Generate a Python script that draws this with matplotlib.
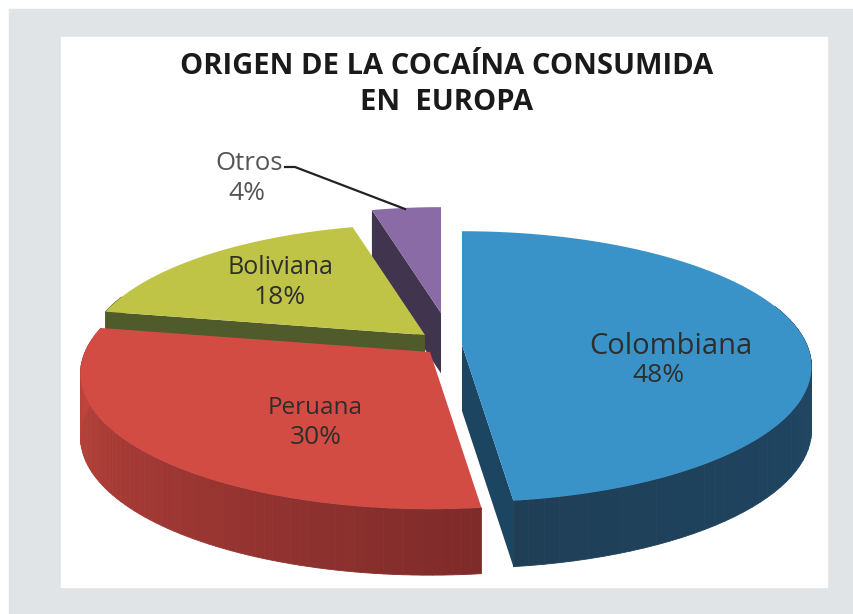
import numpy as np
import matplotlib.pyplot as plt
from matplotlib.colors import to_rgb
from matplotlib.patches import Rectangle

labels = ['Colombiana', 'Peruana', 'Boliviana', 'Otros']
values = [48, 30, 18, 4]

# colores de cada porcion
top_colors = ['#3a93c8', '#d34c44', '#bfc447', '#8a6ba6']
side_colors = [('#1f5074', '#1f3f57'), ('#7e2b2a', '#c4463e'), ('#4f5b2b', '#4f5b2b'), ('#40344f', '#40344f')]
face_colors = ['#1b4560', '#7e2b2a', '#4f5b2b', '#40344f']

# centro de cada porcion en pixeles
centers = [(462, 345), (430, 352), (425, 335), (441, 313)]
radius = [1.0, 1.0, 0.97, 0.92]

A = 345
B = 132
K = 0.16


def project(theta, cx, cy, r):
    # theta desde las 12 en sentido horario, con perspectiva
    u = np.sin(theta) * r
    v = -np.cos(theta) * r
    s = 1 / (1 - K * v)
    return cx + A * u * s, cy + B * v * s, v


def depth(v):
    return 60 + 3 * (v + 1)


fig = plt.figure(figsize=(8.54, 6.14), dpi=100)
ax = fig.add_axes([0, 0, 1, 1])
ax.set_xlim(0, 854)
ax.set_ylim(614, 0)
ax.axis('off')

ax.add_patch(Rectangle((0, 0), 854, 614, color='white', zorder=0))
ax.add_patch(Rectangle((9, 9), 845, 605, color='#e1e4e6', zorder=0))
ax.add_patch(Rectangle((61, 37), 766, 550, color='white', zorder=0))

fracs = np.array(values) / sum(values)
edges = np.concatenate([[0], np.cumsum(fracs)]) * 2 * np.pi

# se pinta de atras hacia adelante
for i in [3, 2, 1, 0]:
    cx, cy = centers[i]
    th = np.linspace(edges[i], edges[i + 1], 80)
    x, y, v = project(th, cx, cy, radius[i])

    # cara radial visible
    if labels[i] == 'Colombiana':
        d = depth(v[-1])
        ax.fill([cx, x[-1], x[-1], cx], [cy, y[-1], y[-1] + d, cy + d], color=face_colors[i], lw=0, zorder=1)
    if labels[i] in ('Boliviana', 'Otros'):
        d = depth(v[0])
        ax.fill([cx, x[0], x[0], cx], [cy, y[0], y[0] + d, cy + d], color=face_colors[i], lw=0, zorder=1)

    # pared exterior con degradado
    c0 = np.array(to_rgb(side_colors[i][0]))
    c1 = np.array(to_rgb(side_colors[i][1]))
    for j in range(len(th) - 1):
        if v[j] < -0.3 and v[j + 1] < -0.3:
            continue
        t = j / (len(th) - 2)
        col = c0 + (c1 - c0) * t
        ax.fill([x[j], x[j + 1], x[j + 1], x[j]],
                [y[j], y[j + 1], y[j + 1] + depth(v[j + 1]), y[j] + depth(v[j])],
                color=col, ec=col, lw=0.6, zorder=1)

    # tapa superior
    ax.fill(np.r_[cx, x], np.r_[cy, y], color=top_colors[i], lw=0, zorder=1)

# textos
font = 'Open Sans'
text_col = '#2e2e2e'
ax.text(447, 66, 'ORIGEN DE LA COCAÍNA CONSUMIDA', family=font, weight='bold', fontsize=21,
        color='#1a1a1a', ha='center', va='center')
ax.text(447, 103, 'EN  EUROPA', family=font, weight='bold', fontsize=21,
        color='#1a1a1a', ha='center', va='center')

label_pos = [(671, 346), (315, 408), (280, 268), (249, 164)]
pct_pos = [(658, 376), (316, 438), (280, 298), (247, 194)]
name_sizes = [21, 17.5, 18, 18.5]
for i in range(len(labels)):
    col = '#555555' if labels[i] == 'Otros' else text_col
    ax.text(label_pos[i][0], label_pos[i][1], labels[i], family=font, fontsize=name_sizes[i], color=col,
            ha='center', va='center')
    ax.text(pct_pos[i][0], pct_pos[i][1], str(values[i]) + '%', family=font, fontsize=19, color=col,
            ha='center', va='center')

# linea guia de Otros
ax.plot([285, 295, 405], [167, 167, 209], color='#222222', lw=1.6, zorder=3)

fig.savefig('out.png', dpi=100)
